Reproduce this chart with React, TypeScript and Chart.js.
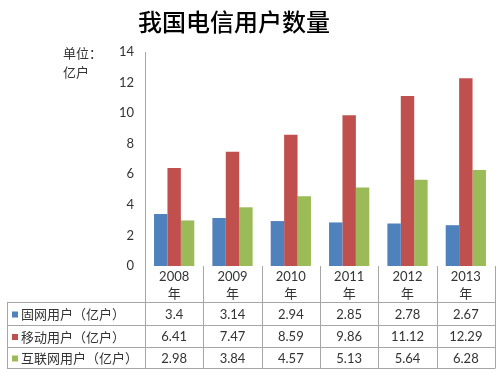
import React, { useEffect, useRef } from "react";
import { Chart, registerables } from "chart.js";

Chart.register(...registerables);

const title = "我国电信用户数量";
const unitLines = ["单位：", "亿户"];
const years = ["2008", "2009", "2010", "2011", "2012", "2013"];
const yearSuffix = "年";
const seriesNames = ["固网用户（亿户）", "移动用户（亿户）", "互联网用户（亿户）"];
const fixedUsers = [3.4, 3.14, 2.94, 2.85, 2.78, 2.67];
const mobileUsers = [6.41, 7.47, 8.59, 9.86, 11.12, 12.29];
const internetUsers = [2.98, 3.84, 4.57, 5.13, 5.64, 6.28];
const colors = ["#4F81BD", "#C0504D", "#9BBB59"];

const FONT = "Lato, 'Noto Sans CJK SC', sans-serif";
const CJK = "'Noto Sans CJK SC', sans-serif";

const tablePlugin = {
  id: "tablePlugin",
  afterDraw(chart: any) {
    const ctx = chart.ctx as CanvasRenderingContext2D;
    const area = chart.chartArea;
    const xs = chart.scales.x;
    const n = years.length;
    const cw = (area.right - area.left) / n;
    const top = area.bottom;
    const rowLines = [302, 325, 347, 368];
    const tableLeft = 7;
    ctx.save();
    // title
    ctx.fillStyle = "#000";
    ctx.font = `500 24px ${CJK}`;
    ctx.textAlign = "center";
    ctx.textBaseline = "middle";
    ctx.fillText(title, 234, 22);
    // unit
    ctx.font = `13px ${CJK}`;
    ctx.fillStyle = "#333";
    ctx.textAlign = "left";
    ctx.fillText(unitLines[0], 63, 53);
    ctx.fillText(unitLines[1], 63, 72);
    // table lines
    ctx.strokeStyle = "#A6A6A6";
    ctx.lineWidth = 1;
    ctx.beginPath();
    for (let i = 0; i <= n; i++) {
      const x = Math.round(area.left + cw * i) + 0.5;
      ctx.moveTo(x, top);
      ctx.lineTo(x, rowLines[rowLines.length - 1]);
    }
    rowLines.forEach((y) => {
      ctx.moveTo(tableLeft, y + 0.5);
      ctx.lineTo(area.right + 0.5, y + 0.5);
    });
    ctx.moveTo(tableLeft + 0.5, rowLines[0]);
    ctx.lineTo(tableLeft + 0.5, rowLines[rowLines.length - 1]);
    ctx.stroke();
    // header
    ctx.fillStyle = "#333";
    ctx.textAlign = "center";
    for (let i = 0; i < n; i++) {
      const cx = xs.getPixelForValue(i);
      ctx.font = `13px ${FONT}`;
      ctx.fillText(years[i], cx, 277);
      ctx.font = `13px ${CJK}`;
      ctx.fillText(yearSuffix, cx, 293);
    }
    const allSeries = [fixedUsers, mobileUsers, internetUsers];
    allSeries.forEach((vals, r) => {
      const cy = (rowLines[r] + rowLines[r + 1]) / 2 + 1;
      ctx.fillStyle = colors[r];
      ctx.fillRect(12, cy - 3, 6, 6);
      ctx.fillStyle = "#333";
      ctx.textAlign = "left";
      ctx.font = `13px ${CJK}`;
      ctx.fillText(seriesNames[r], 21, cy);
      ctx.textAlign = "center";
      ctx.font = `13px ${FONT}`;
      vals.forEach((v, i) => {
        ctx.fillText(String(v), xs.getPixelForValue(i), cy);
      });
    });
    ctx.restore();
  },
};

export default function App() {
  const ref = useRef<HTMLCanvasElement>(null);
  useEffect(() => {
    if (!ref.current) return;
    const chart = new Chart(ref.current, {
      type: "bar",
      data: {
        labels: years,
        datasets: [
          { label: seriesNames[0], data: fixedUsers, backgroundColor: colors[0] },
          { label: seriesNames[1], data: mobileUsers, backgroundColor: colors[1] },
          { label: seriesNames[2], data: internetUsers, backgroundColor: colors[2] },
        ],
      },
      options: {
        animation: false,
        responsive: false,
        layout: { padding: { top: 52, left: 105, right: 6, bottom: 106 } },
        datasets: { bar: { categoryPercentage: 0.69, barPercentage: 1 } },
        plugins: { legend: { display: false }, title: { display: false }, tooltip: { enabled: false } },
        scales: {
          x: { display: false },
          y: {
            min: 0,
            max: 14,
            afterFit: (s: any) => {
              s.width = 40;
            },
            ticks: { stepSize: 2, padding: 11, color: "#333", font: { family: FONT, size: 13 } },
            grid: { display: false, drawTicks: false },
            border: { display: true, color: "#A6A6A6" },
          },
        },
      },
      plugins: [tablePlugin],
    });
    return () => chart.destroy();
  }, []);
  return (
    <div style={{ position: "fixed", left: 0, top: 0, width: 501, height: 372, background: "#fff" }}>
      <canvas ref={ref} width={501} height={372} />
    </div>
  );
}
